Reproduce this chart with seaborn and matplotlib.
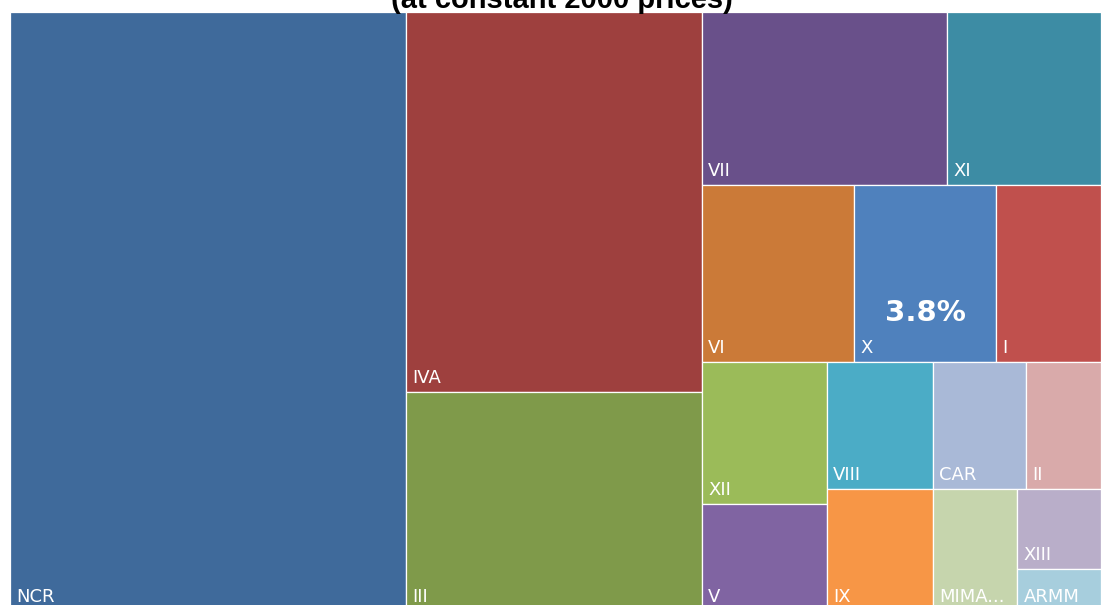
# treemap_grdp.py
# ============================================
# Regional share of GRDP - treemap
# ============================================

import numpy as np
import matplotlib
matplotlib.use('Agg')
import matplotlib.pyplot as plt
from matplotlib.patches import Rectangle
import seaborn as sns

sns.set_theme(style="white")
plt.rcParams['font.family'] = ['DejaVu Sans']

# ---- data (share of total, %) ----
regions = ['NCR', 'IVA', 'III', 'VII', 'XI', 'VI', 'X', 'I', 'XII', 'V',
           'VIII', 'IX', 'CAR', 'II', 'MIMAROPA', 'XIII', 'ARMM']
shares = [36.33, 17.23, 9.91, 6.49, 4.08, 4.12, 3.83, 2.85, 2.71, 2.05,
          2.05, 1.97, 1.81, 1.45, 1.58, 1.02, 0.54]
colors = ['#3F6A9B', '#9E403E', '#7F9A4A', '#69508A', '#3D8CA4', '#CB7A38',
          '#4F81BD', '#C0504D', '#9BBB59', '#8064A2', '#4BACC6', '#F79646',
          '#A9B9D7', '#D9AAAA', '#C6D5AD', '#B9AEC9', '#A7CEDD']
highlight = 'X'
title = '(at constant 2000 prices)'

# plotting area in pixels (1 data unit = 1 pixel at dpi 100)
W, H = 1091, 599


def avg_ratio(sizes, side):
    # mean aspect ratio of a strip laid along a side of given length
    thick = sum(sizes) / side
    ratios = [max(thick / (s / thick), (s / thick) / thick) for s in sizes]
    return np.mean(ratios)


def squarify(sizes, x, y, w, h):
    rects = []
    sizes = list(sizes)
    while sizes:
        if len(sizes) == 1:
            rects.append((x, y, w, h))
            break
        side = min(w, h)
        n = 1
        while n < len(sizes) and avg_ratio(sizes[:n + 1], side) <= avg_ratio(sizes[:n], side):
            n += 1
        strip = sizes[:n]
        thick = sum(strip) / side
        if w >= h:
            # column on the left
            yy = y
            for s in strip:
                rects.append((x, yy, thick, s / thick))
                yy += s / thick
            x += thick
            w -= thick
        else:
            # row on top
            xx = x
            for s in strip:
                rects.append((xx, y, s / thick, thick))
                xx += s / thick
            y += thick
            h -= thick
        sizes = sizes[n:]
    return rects


total = sum(shares)
areas = [s / total * W * H for s in shares]
rects = squarify(areas, 0, 0, W, H)

fig = plt.figure(figsize=(11.01, 6.05), dpi=100, facecolor='white')
ax = fig.add_axes([10 / 1101, -6 / 605, W / 1101, H / 605])
ax.set_xlim(0, W)
ax.set_ylim(H, 0)
ax.axis('off')

renderer = fig.canvas.get_renderer()
pad = 6

for name, share, col, (x, y, w, h) in zip(regions, shares, colors, rects):
    ax.add_patch(Rectangle((x, y), w, h, facecolor=col, edgecolor='white', linewidth=0.9))

    # category label, bottom-left, truncated if too long
    label = name
    t = ax.text(x + pad, y + h - 9, label, color='white', fontsize=13,
                ha='left', va='baseline')
    while t.get_window_extent(renderer).width > w - 2 * pad and len(label) > 1:
        label = label[:-1]
        t.set_text(label + '...')

    if name == highlight:
        ax.text(x + w / 2, y + 0.72 * h, f'{share / total * 100:.1f}%',
                color='white', fontsize=21, fontweight='bold',
                ha='center', va='center')

# title sits partly above the top edge, as in the source image
fig.text(561.5 / 1101, 1 - 7.5 / 605, title, ha='center', va='baseline',
         color='black', fontsize=21, fontweight='bold',
         family=['Liberation Sans', 'DejaVu Sans'])

plt.savefig('out.png', dpi=100)
plt.close()
